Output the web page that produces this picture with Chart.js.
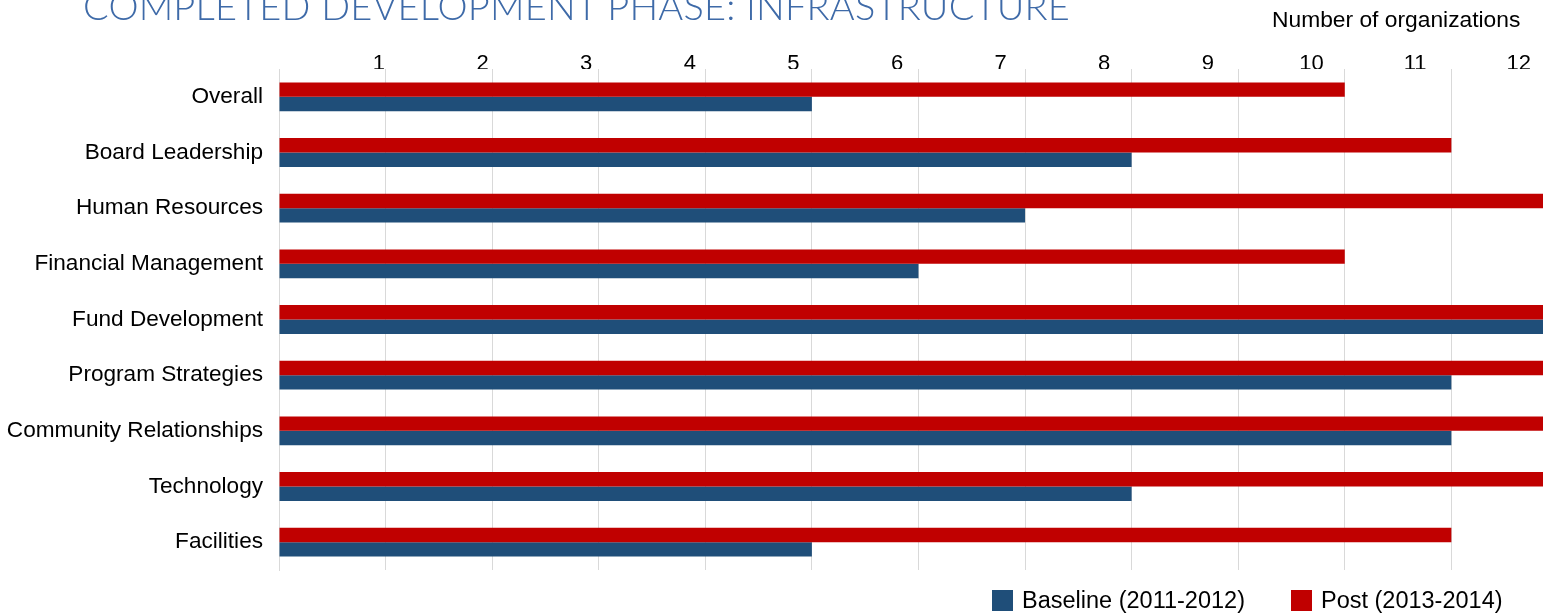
<!DOCTYPE html>
<html>
<head>
<meta charset="utf-8">
<title>Completed development phase: infrastructure</title>
<script src="https://cdn.jsdelivr.net/npm/chart.js@4/dist/chart.umd.min.js"></script>
<style>
    html, body { margin: 0; padding: 0; background: #fff; overflow: hidden; }
    .wrap { position: relative; width: 1551px; height: 614px; }
    #chart { position: absolute; left: 0; top: 0; }
    .title {
        position: absolute; left: 83px; top: -14px;
        font: 300 38px Lato, sans-serif; line-height: 1;
        color: #3E6AA8; white-space: nowrap;
    }
    .caption {
        position: absolute; left: 1272px; top: 8px;
        font: 22.8px "Liberation Sans", Arial, sans-serif; line-height: 1;
        color: #000; white-space: nowrap;
    }
    #legend {
        position: absolute; left: 992px; top: 589px;
        display: flex; font: 23.5px "Liberation Sans", Arial, sans-serif; line-height: 1;
        color: #000; white-space: nowrap;
    }
    #legend .item { display: flex; align-items: center; margin-right: 46px; }
    #legend .box { width: 21px; height: 21px; margin-right: 9px; }
</style>
</head>
<body>
<div class="wrap">
    <canvas id="chart" width="1551" height="614"></canvas>
    <div class="title" id="title">COMPLETED DEVELOPMENT PHASE: INFRASTRUCTURE</div>
    <div class="caption">Number of organizations</div>
    <div id="legend"></div>
</div>
<script>
// categories, top to bottom
const categories = [
    'Overall',
    'Board Leadership',
    'Human Resources',
    'Financial Management',
    'Fund Development',
    'Program Strategies',
    'Community Relationships',
    'Technology',
    'Facilities'
];

// number of organizations per area
const baselineValues = [5, 8, 7, 6, 12, 11, 11, 8, 5];
const postValues = [10, 11, 12, 10, 12, 12, 12, 12, 11];

// numbers printed along the top
const tickLabels = [1, 2, 3, 4, 5, 6, 7, 8, 9, 10, 11, 12];

const FONT = '"Liberation Sans", Arial, sans-serif';
const BLUE = '#1F4E79';
const RED = '#C00000';

// post first so the red bar sits above the blue one in each group
const datasets = [
    { label: 'Post (2013-2014)', data: postValues, backgroundColor: RED },
    { label: 'Baseline (2011-2012)', data: baselineValues, backgroundColor: BLUE }
];

const chart = new Chart(document.getElementById('chart'), {
    type: 'bar',
    data: { labels: categories, datasets: datasets },
    options: {
        indexAxis: 'y',
        responsive: false,
        animation: false,
        layout: { padding: { left: 0, right: 8, top: 0, bottom: 0 } },
        datasets: {
            bar: { barPercentage: 1, categoryPercentage: 0.517 }
        },
        plugins: {
            legend: { display: false },
            tooltip: { enabled: false }
        },
        scales: {
            y: {
                grid: { display: false, drawTicks: false },
                border: { color: '#D9D9D9', width: 1 },
                ticks: { color: '#000', font: { family: FONT, size: 22.6 }, padding: 16 },
                afterFit: axis => { axis.width = 279; }
            },
            x: {
                position: 'bottom',
                min: 0,
                max: 11.86,
                grid: { color: '#D9D9D9', drawTicks: false },
                border: { display: false },
                ticks: { display: false, stepSize: 1, includeBounds: false },
                afterFit: axis => { axis.height = 44; }
            },
            // label axis along the top, slightly narrower spacing than the grid
            xLabels: {
                type: 'linear',
                position: 'top',
                min: 0.035,
                max: 12.235,
                grid: { display: false, drawTicks: false },
                border: { display: false },
                ticks: { color: '#000', font: { family: FONT, size: 22 }, padding: -8 },
                afterBuildTicks: axis => { axis.ticks = tickLabels.map(v => ({ value: v })); },
                afterFit: axis => { axis.height = 69; }
            }
        }
    }
});

// legend in Baseline, Post order
const legend = document.getElementById('legend');
chart.data.datasets.slice().reverse().forEach(ds => {
    const item = document.createElement('div');
    item.className = 'item';
    const box = document.createElement('span');
    box.className = 'box';
    box.style.background = ds.backgroundColor;
    item.appendChild(box);
    item.appendChild(document.createTextNode(ds.label));
    legend.appendChild(item);
});

// stretch the title to its full width
const title = document.getElementById('title');
const w = title.getBoundingClientRect().width;
title.style.letterSpacing = ((987 - w) / title.textContent.length) + 'px';
</script>
</body>
</html>
